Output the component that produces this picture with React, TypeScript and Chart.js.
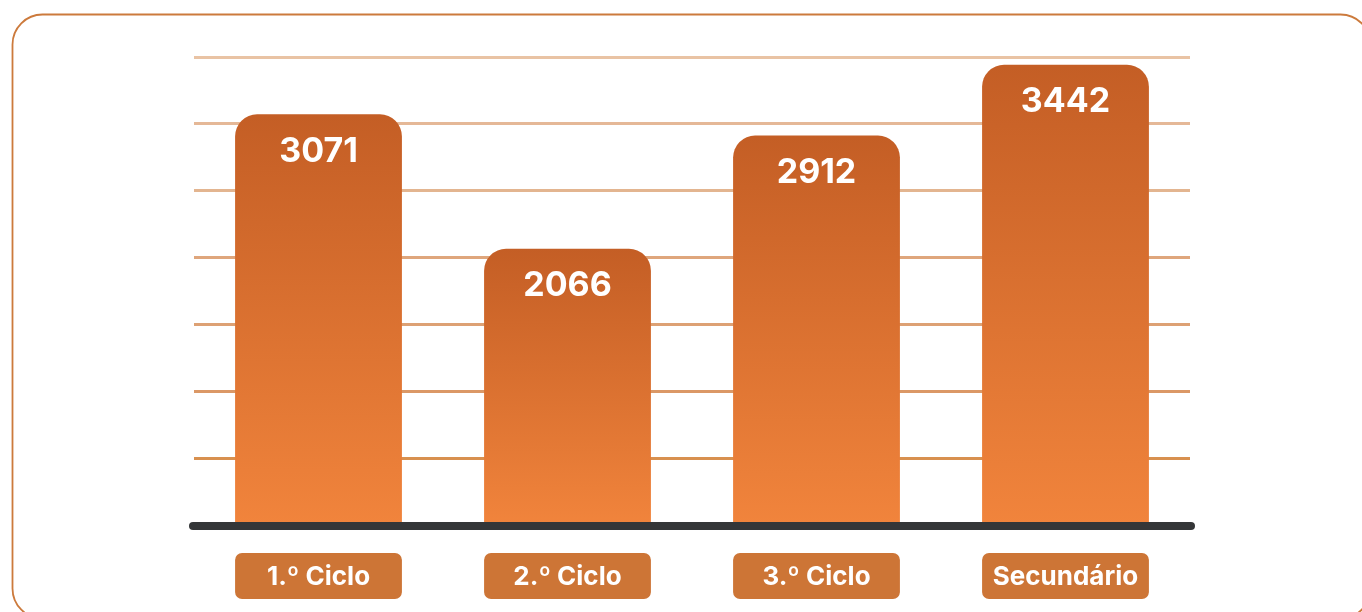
import React, { useEffect, useRef } from "react";
import { Chart, registerables } from "chart.js";

Chart.register(...registerables);

const categories = ["1.º Ciclo", "2.º Ciclo", "3.º Ciclo", "Secundário"];
const values = [3071, 2066, 2912, 3442];
const yMax = 3500;
const yStep = 500;

const gridColors = ["#e9c3a4", "#e5b897", "#e3b590", "#dfa67c", "#dda174", "#db9866", "#d8904f"];

const overlay = {
  id: "overlay",
  beforeDraw(chart: any) {
    const ctx = chart.ctx;
    ctx.save();
    ctx.strokeStyle = "#cc7a3c";
    ctx.lineWidth = 1.8;
    ctx.beginPath();
    ctx.roundRect(12.5, 14.5, 1358, 604, 30);
    ctx.stroke();
    ctx.restore();
  },
  afterDatasetsDraw(chart: any) {
    const ctx = chart.ctx;
    const area = chart.chartArea;
    const meta = chart.getDatasetMeta(0);
    const data = chart.data.datasets[0].data;
    ctx.save();
    // baseline
    ctx.strokeStyle = "#343638";
    ctx.lineWidth = 8;
    ctx.lineCap = "round";
    ctx.beginPath();
    ctx.moveTo(area.left - 1, area.bottom + 1);
    ctx.lineTo(area.right + 1, area.bottom + 1);
    ctx.stroke();
    // value labels
    ctx.fillStyle = "#ffffff";
    ctx.textAlign = "center";
    ctx.textBaseline = "middle";
    ctx.font = "bold 34px Inter, 'Noto Sans', sans-serif";
    meta.data.forEach((bar: any, i: number) => {
      ctx.fillText(String(data[i]), bar.x, bar.y + 37);
    });
    // category label boxes
    meta.data.forEach((bar: any, i: number) => {
      const w = bar.width;
      ctx.fillStyle = "#cd7536";
      ctx.beginPath();
      ctx.roundRect(bar.x - w / 2, area.bottom + 28, w, 46, 7);
      ctx.fill();
      ctx.fillStyle = "#ffffff";
      ctx.font = "bold 26px Inter, 'Noto Sans', sans-serif";
      ctx.fillText(chart.data.labels[i], bar.x, area.bottom + 52);
    });
    ctx.restore();
  },
};

export default function App() {
  const ref = useRef<HTMLCanvasElement | null>(null);
  useEffect(() => {
    if (!ref.current) return;
    const chart = new Chart(ref.current, {
      type: "bar",
      data: {
        labels: categories,
        datasets: [
          {
            data: values,
            backgroundColor: (c: any) => {
              const ch = c.chart;
              const area = ch.chartArea;
              if (!area || c.dataIndex === undefined) return "#d87034";
              const yTop = ch.scales.y.getPixelForValue(values[c.dataIndex]);
              const g = ch.ctx.createLinearGradient(0, yTop, 0, area.bottom);
              g.addColorStop(0, "#c45e25");
              g.addColorStop(1, "#f1843c");
              return g;
            },
            borderRadius: { topLeft: 22, topRight: 22, bottomLeft: 0, bottomRight: 0 },
            borderSkipped: "bottom",
            barPercentage: 0.67,
            categoryPercentage: 1,
          },
        ],
      },
      options: {
        responsive: false,
        animation: false,
        devicePixelRatio: 1,
        layout: { padding: { left: 194, right: 172, top: 57, bottom: 87 } },
        plugins: { legend: { display: false }, tooltip: { enabled: false } },
        scales: {
          x: { display: false },
          y: {
            min: 0,
            max: yMax,
            ticks: { display: false, stepSize: yStep },
            border: { display: false },
            grid: {
              drawTicks: false,
              lineWidth: 3,
              color: (c: any) => {
                if (!c.tick || c.tick.value === 0) return "rgba(0,0,0,0)";
                const idx = Math.round((yMax - c.tick.value) / yStep);
                return gridColors[Math.min(idx, gridColors.length - 1)];
              },
            },
          },
        },
      },
      plugins: [overlay],
    });
    return () => chart.destroy();
  }, []);
  return (
    <div style={{ position: "absolute", left: 0, top: 0, width: 1362, height: 612, background: "#fff" }}>
      <canvas ref={ref} width={1362} height={612} />
    </div>
  );
}
